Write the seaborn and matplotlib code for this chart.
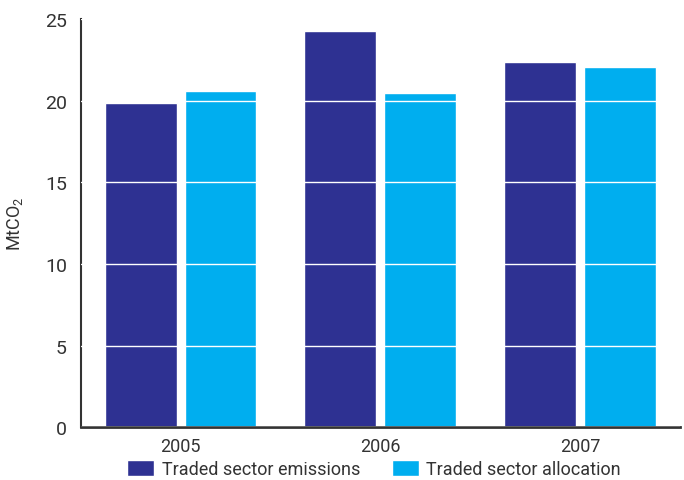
import seaborn as sns
import matplotlib.pyplot as plt
import pandas as pd

years = ["2005", "2006", "2007"]
emissions = [19.85, 24.26, 22.37]
allocation = [20.59, 20.47, 22.06]
series_names = ["Traded sector emissions", "Traded sector allocation"]

df = pd.DataFrame({
    "year": years * 2,
    "value": emissions + allocation,
    "series": [series_names[0]] * 3 + [series_names[1]] * 3,
})

sns.set_theme(style="white")
plt.rcParams["font.family"] = ["Roboto", "DejaVu Sans"]
plt.rcParams["mathtext.default"] = "regular"
txt = "#333333"

fig, ax = plt.subplots(figsize=(6.84, 4.81), dpi=100)
fig.subplots_adjust(left=0.118, right=0.994, bottom=0.110, top=0.958)

sns.barplot(data=df, x="year", y="value", hue="series",
            palette=["#2E3192", "#00AEEF"], width=0.8, gap=0.1,
            saturation=1, ax=ax, legend=True)

ax.set_xlim(-0.5, 2.5)
ax.set_ylim(0, 25)
ax.set_yticks([0, 5, 10, 15, 20, 25])
ax.set_axisbelow(False)
ax.yaxis.grid(True, color="white", linewidth=1.0)
ax.xaxis.grid(False)

ax.set_xticks([-0.5, 0.5, 1.5, 2.5], minor=True)
ax.tick_params(axis="x", which="minor", direction="in", length=6, color="#333333", width=1)
ax.tick_params(axis="x", which="major", length=0, labelsize=13, labelcolor=txt, pad=7)
ax.tick_params(axis="y", length=0, labelsize=14, labelcolor=txt, pad=10)

for s in ["top", "right"]:
    ax.spines[s].set_visible(False)
ax.spines["left"].set_color("#333333")
ax.spines["left"].set_linewidth(1.5)
ax.spines["bottom"].set_color("#333333")
ax.spines["bottom"].set_linewidth(2)

ax.set_xlabel("")
ax.set_ylabel("MtCO$_2$", fontsize=13, color=txt, labelpad=14)

handles, labels = ax.get_legend_handles_labels()
ax.get_legend().remove()
fig.legend(handles, labels, loc="center", bbox_to_anchor=(374 / 684, 1 - 470 / 481),
           ncol=2, frameon=False, fontsize=13, handlelength=1.5, handleheight=1.0,
           columnspacing=1.75, handletextpad=0.4, labelcolor=txt,
           borderpad=0.2, borderaxespad=0)

fig.savefig("out.png", dpi=100)
